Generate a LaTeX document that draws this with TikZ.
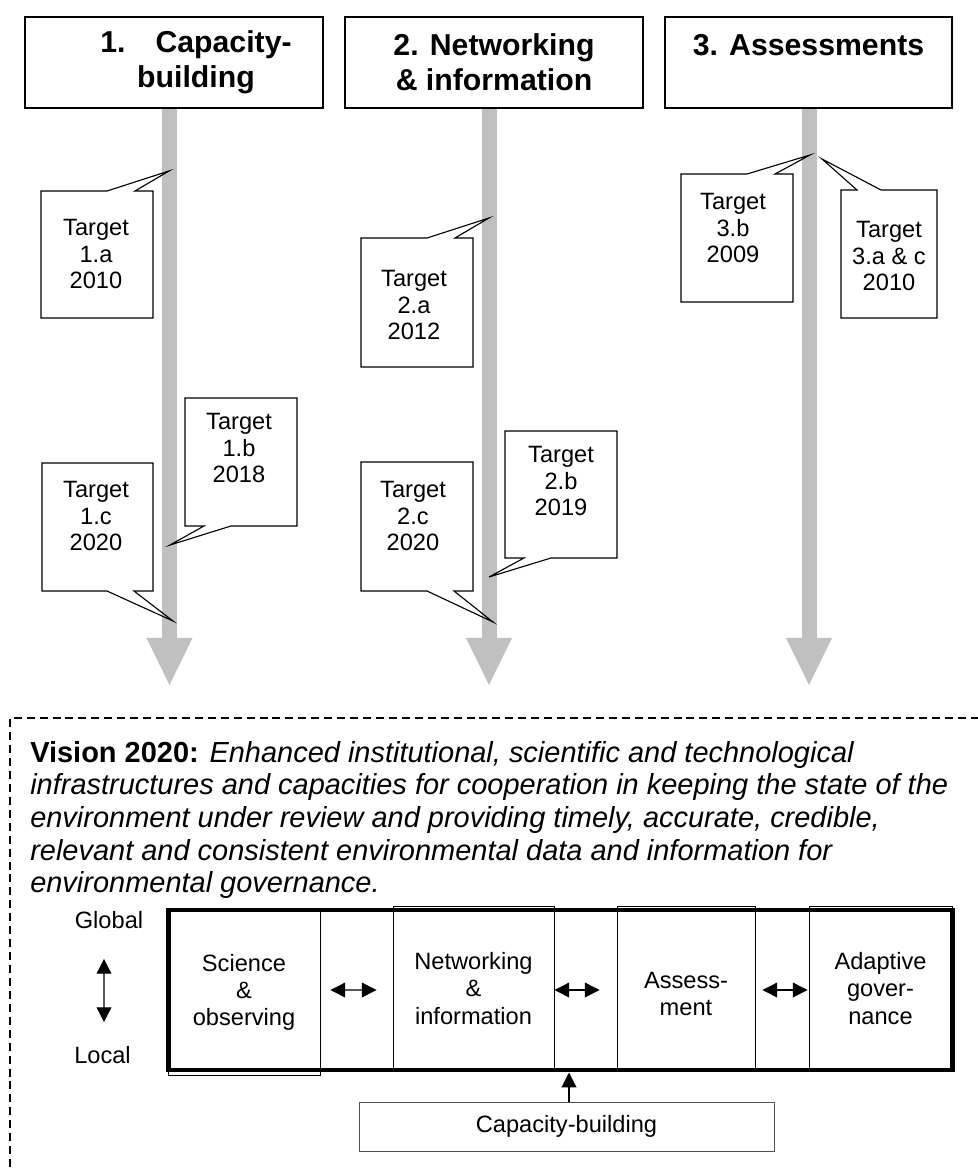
\documentclass[tikz,border=0pt]{standalone}
\usepackage{fontspec}
\setmainfont{Liberation Sans}
\usetikzlibrary{arrows.meta, calc, positioning}
\definecolor{shaftgray}{RGB}{192, 192, 192}
\definecolor{capline}{RGB}{80, 80, 80}

\begin{document}
\begin{tikzpicture}[x=0.025cm, y=-0.025cm,
	hdr/.style={draw, line width=1pt, minimum height=2.275cm, align=center, inner sep=0pt,
		font=\fontsize{21.5}{25}\selectfont\bfseries},
	shaft/.style={shaftgray, line width=0.375cm,
		-{Triangle[width=1.15cm, length=1.175cm, line width=0pt]}},
	tbox/.style={draw, line width=0.8pt, line join=miter},
	tgt/.style={align=center, inner sep=0pt, font=\fontsize{16.8}{18.8}\selectfont},
	cell/.style={draw, line width=0.6pt, minimum height=4.125cm, align=center, inner sep=0pt,
		font=\fontsize{16.8}{19.4}\selectfont},
	lrarrow/.style={{Triangle[width=10.5pt, length=10.5pt]}-{Triangle[width=10.5pt, length=10.5pt]}, line width=0.8pt},
	captip/.style={-{Triangle[width=10.5pt, length=10.5pt]}, line width=0.8pt}]
	\useasboundingbox (0,0) rectangle (978,1169);

	% three work areas
	\node[hdr, minimum width=7.45cm] (h1) at (174,62.5) {\hspace*{1.1cm}1.\hspace{0.75cm}Capacity-\\\hspace*{1.1cm}building};
	\node[hdr, minimum width=7.45cm] (h2) at (494,62.5) {2. Networking\\\& information};
	\node[hdr, minimum width=7.175cm] (h3) at (808.5,62.5) {3. Assessments\\\mbox{}};

	\coordinate (e1) at (169.5,685);
	\coordinate (e2) at (489,685);
	\coordinate (e3) at (809,685);
	\draw[shaft] (h1.south -| e1) -- (e1);
	\draw[shaft] (h2.south -| e2) -- (e2);
	\draw[shaft] (h3.south -| e3) -- (e3);

	% targets
	\draw[tbox] (41,191) -- (107,191) -- (169,171) -- (135,191) -- (153,191) -- (153,318) -- (41,318) -- cycle;
	\node[tgt] (t1a) at (96,254) {Target\\1.a\\2010};
	\draw[tbox] (185,398) -- (297,398) -- (297,526) -- (231,526) -- (170,545) -- (204,526) -- (185,526) -- cycle;
	\node[tgt] (t1b) at (239,448) {Target\\1.b\\2018};
	\draw[tbox] (42,463) -- (153,463) -- (153,591) -- (134,591) -- (173,621) -- (107,591) -- (42,591) -- cycle;
	\node[tgt] (t1c) at (96,516) {Target\\1.c\\2020};

	\draw[tbox] (361,238) -- (427,238) -- (489,218) -- (455,238) -- (473,238) -- (473,367) -- (361,367) -- cycle;
	\node[tgt] (t2a) at (414,305) {Target\\2.a\\2012};
	\draw[tbox] (505,431) -- (617,431) -- (617,558) -- (551,558) -- (489,577) -- (524,558) -- (505,558) -- cycle;
	\node[tgt] (t2b) at (561,481) {Target\\2.b\\2019};
	\draw[tbox] (361,462) -- (473,462) -- (473,591) -- (454,591) -- (493,622) -- (427,591) -- (361,591) -- cycle;
	\node[tgt] (t2c) at (413,516) {Target\\2.c\\2020};

	\draw[tbox] (681,174) -- (747,174) -- (810,155) -- (775,174) -- (793,174) -- (793,302) -- (681,302) -- cycle;
	\node[tgt] (t3b) at (733,228) {Target\\3.b\\2009};
	\draw[tbox] (841,190) -- (857,190) -- (822,159) -- (881,190) -- (937,190) -- (937,318) -- (841,318) -- cycle;
	\node[tgt] (t3ac) at (889,256) {Target\\3.a \& c\\2010};

	% vision
	\draw[dash pattern=on 5.7pt off 3.5pt, line width=0.9pt] (10,1180) -- (10,718) -- (990,718);
	\node[anchor=north west, align=left, inner sep=0pt, font=\fontsize{20.6}{23.2}\selectfont] (vis) at (30,741)
		{\textbf{Vision 2020:} \textit{Enhanced institutional, scientific and technological}\\
		\textit{infrastructures and capacities for cooperation in keeping the state of the}\\
		\textit{environment under review and providing timely, accurate, credible,}\\
		\textit{relevant and consistent environmental data and information for}\\
		\textit{environmental governance.}};

	\node[tgt] (glob) at (109,920) {Global};
	\node[tgt] (loc) at (102.5,1055) {Local};
	\draw[lrarrow] ($(glob.south)+(-5,30)$) -- ($(loc.north)+(1.5,-24)$);

	\node[cell, minimum width=3.8cm] (sci) at (244,992.5) {Science\\\&\\observing};
	\node[cell, minimum width=4.025cm] (net) at (473.5,988.5) {Networking\\\&\\information};
	\node[cell, minimum width=3.45cm] (ass) at (686,988.5) {\mbox{}\\Assess-\\ment};
	\node[cell, minimum width=3.575cm] (gov) at (880.5,988.5) {Adaptive\\gover-\\nance};
	\node[draw, line width=3.5pt, minimum width=19.575cm, minimum height=4cm] (row) at (560.5,990) {};

	\draw[lrarrow] ($(sci.east)+(10,-2.5)$) -- ($(net.west)+(-16,1.5)$);
	\draw[lrarrow] ($(net.east)+(0,1.5)$) -- ($(ass.west)+(-17,1.5)$);
	\draw[lrarrow] ($(ass.east)+(7,1.5)$) -- ($(gov.west)+(-1,1.5)$);

	\node[draw=capline, line width=0.6pt, minimum width=10.375cm, minimum height=1.225cm,
		font=\fontsize{16.8}{18.8}\selectfont] (cap) at (566.5,1126.5) {Capacity-building};
	\draw[captip] ($(cap.north)+(2.5,0)$) -- ($(cap.north |- row.south)+(2.5,0)$);
\end{tikzpicture}
\end{document}
